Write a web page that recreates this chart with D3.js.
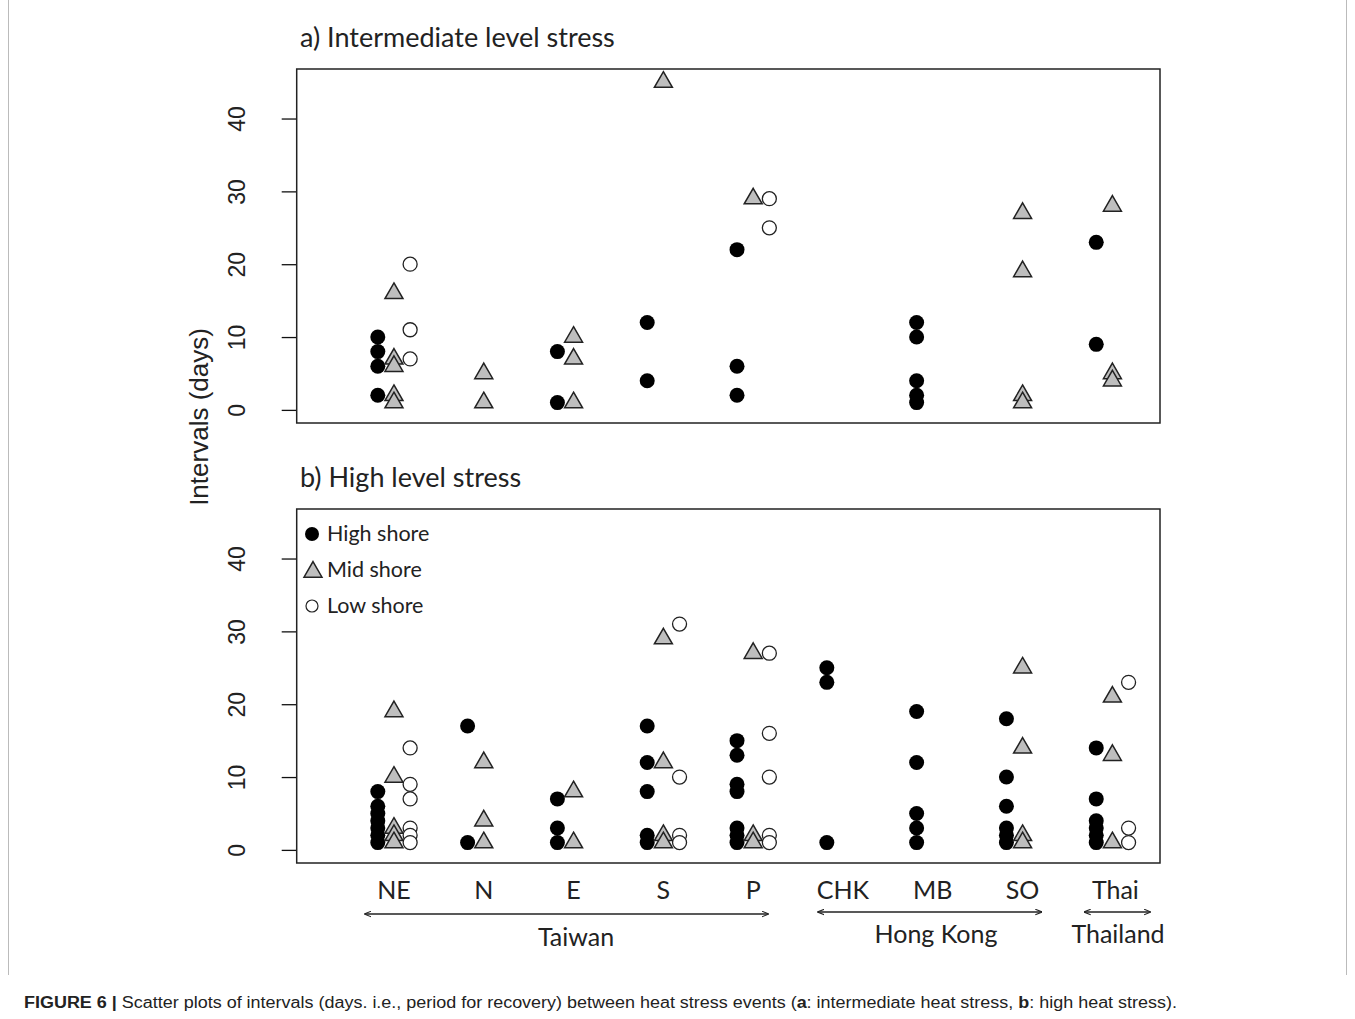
<!DOCTYPE html>
<html>
<head>
<meta charset="utf-8">
<script src="https://cdn.jsdelivr.net/npm/d3@7"></script>
<style>
  body { margin: 0; background: #fff; }
  svg { display: block; }
</style>
</head>
<body>
<div id="chart"></div>
<script>
// sites along the x axis
const sites = ["NE", "N", "E", "S", "P", "CHK", "MB", "SO", "Thai"];
const yTicks = [0, 10, 20, 30, 40];

// a) intermediate level stress, intervals (days) per site
const highA = [[10, 8, 6, 2], [], [8, 1], [12, 4], [22, 6, 2], [], [12, 10, 4, 2, 1], [], [23, 9]];
const midA  = [[16, 7, 6, 2, 1], [5, 1], [10, 7, 1], [45], [29], [], [], [27, 19, 2, 1], [28, 5, 4]];
const lowA  = [[20, 11, 7], [], [], [], [29, 25], [], [], [], []];

// b) high level stress
const highB = [[8, 6, 5, 4, 3, 2, 1], [17, 1], [7, 3, 1], [17, 12, 8, 2, 1], [15, 13, 9, 8, 3, 2, 1], [25, 23, 1], [19, 12, 5, 3, 1], [18, 10, 6, 3, 2, 1], [14, 7, 4, 3, 2, 1]];
const midB  = [[19, 10, 3, 2, 1], [12, 4, 1], [8, 1], [29, 12, 2, 1], [27, 2, 1], [], [], [25, 14, 2, 1], [21, 13, 1]];
const lowB  = [[14, 9, 7, 3, 2, 1], [], [], [31, 10, 2, 1], [27, 16, 10, 2, 1], [], [], [], [23, 3, 1]];

// regions below the axis
const regions = [
  { name: "Taiwan", from: 0, to: 4 },
  { name: "Hong Kong", from: 5, to: 7 },
  { name: "Thailand", from: 8, to: 8 }
];

const legendItems = ["High shore", "Mid shore", "Low shore"];

const W = 1355, H = 1019;
const svg = d3.select("#chart").append("svg")
    .attr("width", W)
    .attr("height", H);

const calibri = "Lato, 'Open Sans', sans-serif";
const arial = "'Liberation Sans', Arial, sans-serif";

// page frame
svg.append("line").attr("x1", 8.5).attr("x2", 8.5).attr("y1", 0).attr("y2", 975)
    .attr("stroke", "#bbb").attr("stroke-width", 1);
svg.append("line").attr("x1", 1346.5).attr("x2", 1346.5).attr("y1", 0).attr("y2", 975)
    .attr("stroke", "#bbb").attr("stroke-width", 1);

// index scale: site i sits at i+1, shore offsets around it
const x = d3.scaleLinear().domain([-0.083, 9.53]).range([296.7, 1160]);
const offset = { high: -0.18, mid: 0, low: 0.18 };

const triangle = d3.symbol().type(d3.symbolTriangle).size(140);

function drawPanel(top, title, high, mid, low) {
    const y = d3.scaleLinear().domain([-1.8, 46.8]).range([top + 354, top]);
    const g = svg.append("g");

    // y axis, labels rotated like base R
    const ax = g.append("g")
        .attr("transform", `translate(${x.range()[0]},0)`)
        .call(d3.axisLeft(y).tickValues(yTicks).tickSize(15).tickSizeOuter(0));
    ax.select(".domain").remove();
    ax.selectAll(".tick line").attr("stroke", "#111").attr("stroke-width", 1.3);
    ax.selectAll(".tick text")
        .attr("x", 0).attr("dy", 0)
        .attr("transform", "translate(-52,0) rotate(-90)")
        .attr("text-anchor", "middle")
        .style("font-family", arial)
        .style("font-size", "23px")
        .attr("fill", "#222");

    // plot box
    g.append("rect")
        .attr("x", x.range()[0]).attr("y", top)
        .attr("width", x.range()[1] - x.range()[0])
        .attr("height", 354)
        .attr("fill", "none").attr("stroke", "#222").attr("stroke-width", 1.5);

    g.append("text")
        .attr("x", 300).attr("y", top - 22)
        .style("font-family", calibri)
        .style("font-size", "27px")
        .attr("fill", "#222")
        .text(title);

    const flat = (arr, kind) => arr.flatMap((vals, i) => vals.map(v => ({ i: i + 1, v, kind })));

    g.selectAll(".high").data(flat(high, "high")).join("circle")
        .attr("class", "high")
        .attr("cx", d => x(d.i + offset.high))
        .attr("cy", d => y(d.v))
        .attr("r", 7.5)
        .attr("fill", "#000");

    g.selectAll(".mid").data(flat(mid, "mid")).join("path")
        .attr("class", "mid")
        .attr("d", triangle)
        .attr("transform", d => `translate(${x(d.i + offset.mid)},${y(d.v)})`)
        .attr("fill", "#bebebe")
        .attr("stroke", "#222")
        .attr("stroke-width", 1.5);

    g.selectAll(".low").data(flat(low, "low")).join("circle")
        .attr("class", "low")
        .attr("cx", d => x(d.i + offset.low))
        .attr("cy", d => y(d.v))
        .attr("r", 7)
        .attr("fill", "#fff")
        .attr("stroke", "#222")
        .attr("stroke-width", 1.3);

    return g;
}

drawPanel(69, "a) Intermediate level stress", highA, midA, lowA);
const pb = drawPanel(509, "b) High level stress", highB, midB, lowB);

// legend in panel b
const legY = [534, 570, 606];
const leg = pb.append("g");
leg.append("circle").attr("cx", 312).attr("cy", legY[0]).attr("r", 7).attr("fill", "#000");
leg.append("path").attr("d", triangle)
    .attr("transform", `translate(313,${legY[1] + 2})`)
    .attr("fill", "#bebebe").attr("stroke", "#222").attr("stroke-width", 1.5);
leg.append("circle").attr("cx", 312).attr("cy", legY[2]).attr("r", 6)
    .attr("fill", "#fff").attr("stroke", "#222").attr("stroke-width", 1.2);
leg.selectAll("text").data(legendItems).join("text")
    .attr("x", 327)
    .attr("y", (d, i) => legY[i] + 7)
    .style("font-family", calibri)
    .style("font-size", "21.5px")
    .attr("fill", "#222")
    .text(d => d);

// y axis title
svg.append("text")
    .attr("transform", "translate(208,417) rotate(-90)")
    .attr("text-anchor", "middle")
    .style("font-family", arial)
    .style("font-size", "26px")
    .attr("fill", "#222")
    .text("Intervals (days)");

// site labels
svg.selectAll(".site").data(sites).join("text")
    .attr("class", "site")
    .attr("x", (d, i) => x(i + 1) + (d === "Thai" ? 3 : 0))
    .attr("y", 899)
    .attr("text-anchor", "middle")
    .style("font-family", calibri)
    .style("font-size", "25px")
    .attr("fill", "#222")
    .text(d => d);

// region arrows
const defs = svg.append("defs");
defs.append("marker")
    .attr("id", "head")
    .attr("viewBox", "0 0 10 10")
    .attr("refX", 9).attr("refY", 5)
    .attr("markerWidth", 7).attr("markerHeight", 7)
    .attr("markerUnits", "userSpaceOnUse")
    .attr("orient", "auto-start-reverse")
    .append("path")
    .attr("d", "M0,1 L10,5 L0,9")
    .attr("fill", "none").attr("stroke", "#222").attr("stroke-width", 1.5);

// arrow ends and label centres, relative to the site positions
const regionSpan = [[-29, 15], [-25, 19], [-28, 38]];
const regionArrowY = [914, 912, 912];
const regionLabelX = [576, 936, 1118];
const regionLabelY = [946, 943, 943];

regions.forEach((r, k) => {
    const a = x(r.from + 1) + regionSpan[k][0];
    const b = x(r.to + 1) + regionSpan[k][1];
    svg.append("line")
        .attr("x1", a).attr("x2", b)
        .attr("y1", regionArrowY[k]).attr("y2", regionArrowY[k])
        .attr("stroke", "#222").attr("stroke-width", 1.6)
        .attr("marker-start", "url(#head)")
        .attr("marker-end", "url(#head)");
    svg.append("text")
        .attr("x", regionLabelX[k])
        .attr("y", regionLabelY[k])
        .attr("text-anchor", "middle")
        .style("font-family", calibri)
        .style("font-size", "25px")
        .attr("fill", "#222")
        .text(r.name);
});

// caption
const cap = svg.append("text")
    .attr("x", 24).attr("y", 1008)
    .style("font-family", arial)
    .style("font-size", "16px")
    .attr("fill", "#222");
cap.append("tspan").style("font-weight", "bold").text("FIGURE 6 | ");
cap.append("tspan").text("Scatter plots of intervals (days. i.e., period for recovery) between heat stress events (");
cap.append("tspan").style("font-weight", "bold").text("a");
cap.append("tspan").text(": intermediate heat stress, ");
cap.append("tspan").style("font-weight", "bold").text("b");
cap.append("tspan").text(": high heat stress).");
cap.attr("textLength", 1153).attr("lengthAdjust", "spacingAndGlyphs");
</script>
</body>
</html>
